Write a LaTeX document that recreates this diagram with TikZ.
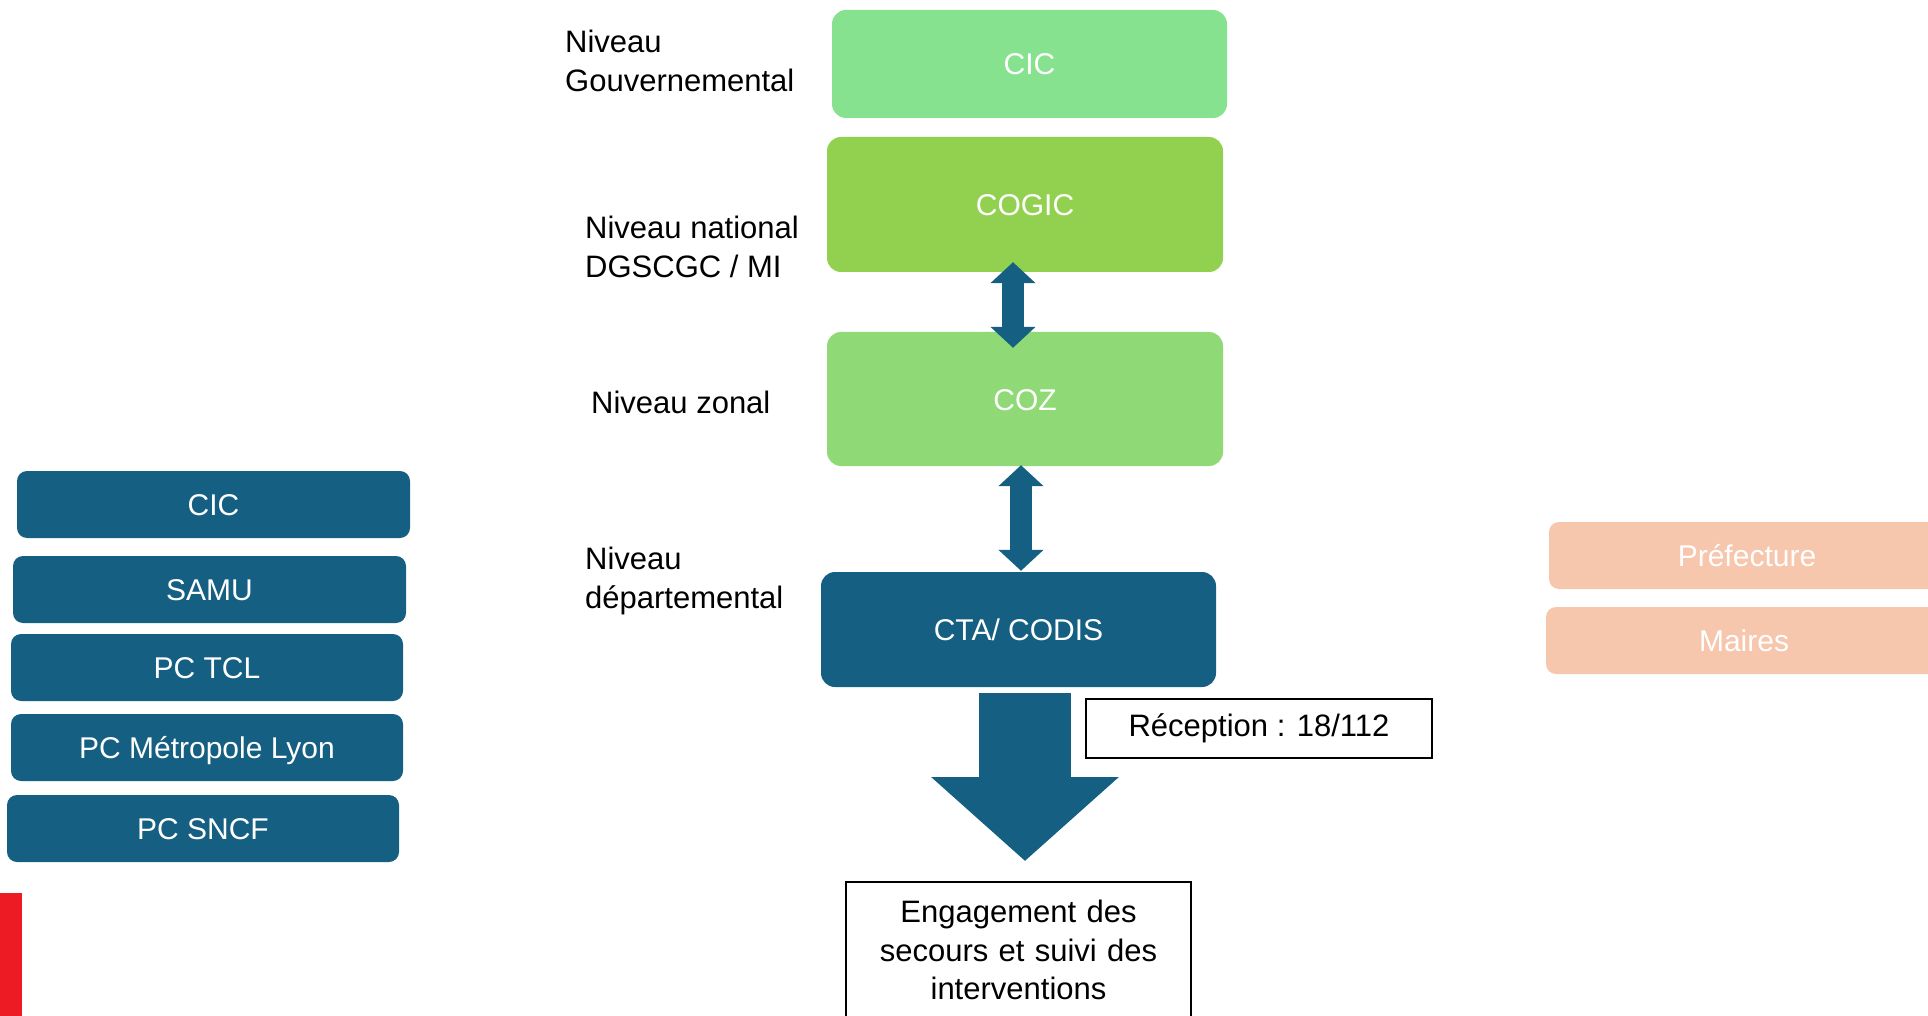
\documentclass[tikz,border=0pt]{standalone}
\usepackage{fontspec}
\setmainfont{Liberation Sans}
\usetikzlibrary{arrows.meta,calc}
\definecolor{dblue}{HTML}{156082}
\definecolor{gcic}{HTML}{86E28F}
\definecolor{gcogic}{HTML}{92D050}
\definecolor{gcoz}{HTML}{8FDA76}
\definecolor{peach}{HTML}{F6C6AD}
\definecolor{redbar}{HTML}{ED1C24}
\begin{document}
\begin{tikzpicture}[x=1pt,y=-1pt,
  box/.style={rounded corners=14pt, text=white, font=\fontsize{30}{36}\selectfont,
    text height=22pt, text depth=0pt, inner sep=0pt},
  gbox/.style={box, minimum width=396pt},
  sbox/.style={box, rounded corners=10pt, fill=dblue, minimum width=392pt, minimum height=67pt},
  pbox/.style={box, rounded corners=10pt, fill=peach, minimum width=396pt, minimum height=67pt},
  lbl/.style={anchor=base west, align=left, inner sep=0pt, font=\fontsize{31}{39}\selectfont},
  frame/.style={draw=black, line width=2pt, inner sep=0pt, font=\fontsize{31}{38.5}\selectfont},
  dbl/.style={draw=dblue, line width=22pt, {Triangle[width=44pt,length=21pt]}-{Triangle[width=44pt,length=21pt]}},
  bigarrow/.style={draw=dblue, line width=92pt, -{Triangle[width=183pt,length=84pt]}}
]
\useasboundingbox (0,0) rectangle (1928,1016);
\clip (0,0) rectangle (1928,1016);

% central column
\node[gbox, fill=gcic, minimum height=108pt, minimum width=395pt] (cic) at (1029.5,64) {CIC};
\node[gbox, fill=gcogic, minimum height=135pt] (cogic) at (1025,204.5) {COGIC};
\node[gbox, fill=gcoz, minimum height=134pt] (coz) at (1025,399) {COZ};
\node[gbox, fill=dblue, minimum height=115pt, minimum width=395pt] (cta) at (1018.5,629.5) {CTA/ CODIS};

\node[frame, minimum width=346pt, minimum height=59pt, text height=22pt, text depth=6pt] (recep) at (1259,728.5) {Réception : 18/112};
\node[frame, minimum width=345pt, minimum height=136pt, text width=340pt, align=center] (eng) at (1018.5,950)
  {Engagement des\\secours et suivi des\\interventions};

% level labels (base anchor = baseline of last line)
\node[lbl] (lgov) at (565,92) {Niveau\\Gouvernemental};
\node[lbl] (lnat) at (585,278) {Niveau national\\DGSCGC / MI};
\node[lbl] (lzon) at (591,413) {Niveau zonal};
\node[lbl] (ldep) at (585,608) {Niveau\\départemental};

% arrows
\coordinate (a1s) at ([xshift=-12pt,yshift=10pt]cogic.south);
\coordinate (a1e) at ([xshift=-12pt,yshift=-16pt]coz.north);
\draw[dbl] (a1s) -- (a1e);
\coordinate (a2s) at ([xshift=-4pt,yshift=1pt]coz.south);
\coordinate (a2e) at ([xshift=2.5pt,yshift=1pt]cta.north);
\draw[dbl] (a2s) -- (a2e);
\coordinate (bs) at ([xshift=6.5pt,yshift=-6pt]cta.south);
\coordinate (be) at ([xshift=6.5pt,yshift=20pt]eng.north);
\draw[bigarrow] (bs) -- (be);

% left column
\node[sbox, minimum width=393pt] (lcic) at (213.5,504.5) {CIC};
\node[sbox, minimum width=393pt] (samu) at (209.5,589.5) {SAMU};
\node[sbox] (tcl) at (207,667.5) {PC TCL};
\node[sbox] (metro) at (207,747.5) {PC Métropole Lyon};
\node[sbox] (sncf) at (203,828.5) {PC SNCF};

% red bar
\node[fill=redbar, minimum width=22pt, minimum height=125pt, inner sep=0pt, anchor=north west] (bar) at (0,893) {};

% right column
\node[pbox] (pref) at (1747,555.5) {Préfecture};
\node[pbox] (maires) at (1744,640.5) {Maires};
\end{tikzpicture}
\end{document}
